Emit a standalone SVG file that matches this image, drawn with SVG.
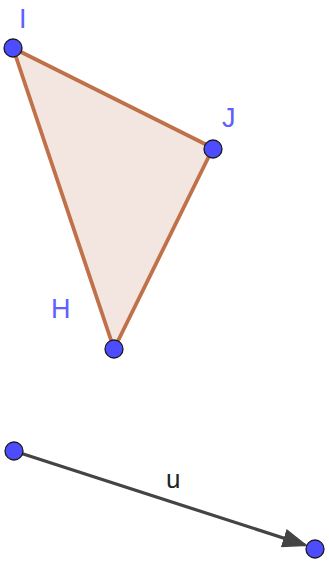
<svg xmlns="http://www.w3.org/2000/svg" width="329" height="561" viewBox="0 0 329 561">
<style>
.pt{fill:#4d4dff;stroke:#1a1a1a;stroke-width:1.3}
.lbl{font-family:"Liberation Sans",Arial,sans-serif;font-size:27px;fill:#6060ff}
.vl{font-family:"Liberation Sans",Arial,sans-serif;font-size:26px;fill:#222}
</style>
<defs>
<marker id="ah" markerWidth="8" markerHeight="6" refX="7" refY="3" orient="auto" markerUnits="strokeWidth">
<path d="M0,0 L8,3 L0,6 Z" fill="#444"/>
</marker>
</defs>
<g id="triangle">
<polygon points="13,48 213,148 114,349" fill="#f3e6e0" stroke="#c0714a" stroke-width="3.8" stroke-linejoin="round"/>
</g>
<g id="connectors">
<line x1="14" y1="451" x2="305" y2="545" stroke="#444" stroke-width="3.2" marker-end="url(#ah)"/>
</g>
<g id="I"><circle class="pt" cx="13" cy="48" r="9"/><text class="lbl" x="19" y="28">I</text></g>
<g id="J"><circle class="pt" cx="213" cy="149" r="9"/><text class="lbl" x="222" y="127">J</text></g>
<g id="H"><circle class="pt" cx="114" cy="349" r="9"/><text class="lbl" x="51" y="318">H</text></g>
<g id="A"><circle class="pt" cx="14" cy="451" r="9"/></g>
<g id="B"><circle class="pt" cx="315" cy="549" r="9"/></g>
<g id="u"><text class="vl" x="166" y="488">u</text></g>
</svg>
